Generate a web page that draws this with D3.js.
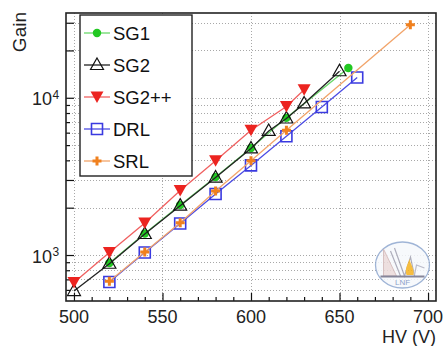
<!DOCTYPE html>
<html>
<head>
<meta charset="utf-8">
<script src="https://cdn.jsdelivr.net/npm/d3@7"></script>
<style>
  html, body { margin: 0; padding: 0; background: #fff; }
  svg { display: block; font-family: "Liberation Sans", Arial, sans-serif; }
</style>
</head>
<body>
<svg id="chart" width="444" height="346"></svg>
<script>
// Gain vs high voltage for five detector configurations
const seriesNames = ["SG1", "SG2", "SG2++", "DRL", "SRL"];

const hvSG1   = [520, 540, 560, 580, 600, 620, 655];
const gainSG1 = [890, 1370, 2080, 3130, 4790, 7450, 15450];

const hvSG2   = [500, 520, 540, 560, 580, 600, 610, 620, 630, 650];
const gainSG2 = [590, 880, 1360, 2060, 3110, 4760, 6150, 7380, 9200, 14750];

const hvSG2pp   = [500, 520, 540, 560, 580, 600, 620, 630];
const gainSG2pp = [668, 1037, 1600, 2575, 3970, 6210, 8800, 11250];

const hvDRL   = [520, 540, 560, 580, 600, 620, 640, 660];
const gainDRL = [673, 1037, 1587, 2446, 3715, 5690, 8730, 13470];

const hvSRL   = [520, 540, 560, 580, 600, 620, 690];
const gainSRL = [680, 1045, 1606, 2557, 3970, 6210, 29100];

const xTicks = [500, 550, 600, 650, 700];
const yDecades = [3, 4];
const xTitle = "HV (V)";
const yTitle = "Gain";

const frame = { left: 66, top: 13, right: 436, bottom: 301 };

const x = d3.scaleLinear().domain([495.5, 704.5]).range([frame.left, frame.right]);
const y = d3.scaleLog().domain([510, 34600]).range([frame.bottom, frame.top]);

const svg = d3.select("#chart");

// grid lines: every log step horizontally, every labelled HV vertically
const logSteps = [];
for (let e = 2; e <= 4; e++) for (let m = 1; m <= 9; m++) {
  const v = m * Math.pow(10, e);
  if (v >= y.domain()[0] && v <= y.domain()[1]) logSteps.push(v);
}
const grid = svg.append("g").attr("stroke", "#a8a8a8").attr("stroke-width", 1)
  .attr("stroke-dasharray", "1,2");
grid.selectAll("line.h").data(logSteps).join("line").attr("class", "h")
  .attr("x1", frame.left).attr("x2", frame.right)
  .attr("y1", d => Math.round(y(d)) + 0.5).attr("y2", d => Math.round(y(d)) + 0.5);
grid.selectAll("line.v").data(xTicks).join("line").attr("class", "v")
  .attr("y1", frame.top).attr("y2", frame.bottom)
  .attr("x1", d => Math.round(x(d)) + 0.5).attr("x2", d => Math.round(x(d)) + 0.5);

// axes drawn inside the frame (ticks pointing inward)
const xMinor = d3.range(500, 701, 10).filter(v => v % 50 !== 0);
svg.append("g").attr("transform", `translate(0,${frame.bottom})`)
  .call(d3.axisBottom(x).tickValues(xTicks).tickSize(-8).tickFormat(""))
  .call(g => g.select(".domain").remove())
  .call(g => g.selectAll("line").attr("stroke", "#111").attr("stroke-width", 1.2));
svg.append("g").attr("transform", `translate(0,${frame.bottom})`)
  .call(d3.axisBottom(x).tickValues(xMinor).tickSize(-4).tickFormat(""))
  .call(g => g.select(".domain").remove())
  .call(g => g.selectAll("line").attr("stroke", "#111").attr("stroke-width", 1.2));

const yLong = logSteps.filter(v => { const m = v / Math.pow(10, Math.floor(Math.log10(v) + 1e-9)); return m < 3.5; });
const yShort = logSteps.filter(v => !yLong.includes(v));
svg.append("g").attr("transform", `translate(${frame.left},0)`)
  .call(d3.axisLeft(y).tickValues(yLong).tickSize(-8).tickFormat(""))
  .call(g => g.select(".domain").remove())
  .call(g => g.selectAll("line").attr("stroke", "#111").attr("stroke-width", 1.2));
svg.append("g").attr("transform", `translate(${frame.left},0)`)
  .call(d3.axisLeft(y).tickValues(yShort).tickSize(-4).tickFormat(""))
  .call(g => g.select(".domain").remove())
  .call(g => g.selectAll("line").attr("stroke", "#111").attr("stroke-width", 1.2));

// x tick labels
svg.append("g").selectAll("text").data(xTicks).join("text")
  .attr("x", d => x(d)).attr("y", 323)
  .attr("text-anchor", "middle").attr("font-size", 18).attr("fill", "#222")
  .text(d => d);

// y tick labels as powers of ten
svg.append("g").selectAll("text").data(yDecades).join("text")
  .attr("x", 52).attr("y", d => y(Math.pow(10, d)) + 7.5)
  .attr("text-anchor", "end").attr("font-size", 18).attr("fill", "#222")
  .text("10");
svg.append("g").selectAll("text").data(yDecades).join("text")
  .attr("x", 52.5).attr("y", d => y(Math.pow(10, d)) + 1)
  .attr("font-size", 12).attr("fill", "#222").text(d => d);

// axis titles
svg.append("text").attr("x", 436).attr("y", 343).attr("text-anchor", "end")
  .attr("font-size", 18).attr("fill", "#222").text(xTitle);
svg.append("text").attr("transform", "translate(26,12) rotate(-90)")
  .attr("text-anchor", "end").attr("font-size", 19).attr("fill", "#222").text(yTitle);

// marker shapes
function markerPath(kind) {
  switch (kind) {
    case "circle": return d3.symbol(d3.symbolCircle, 56)();
    case "triUp": return "M0,-7L6.5,4.5L-6.5,4.5Z";
    case "triDown": return "M0,6L6.5,-5.5L-6.5,-5.5Z";
    case "square": return "M-5.5,-5.5H5.5V5.5H-5.5Z";
    case "plus": return "M-4.5,0H4.5M0,-4.5V4.5";
  }
}

const series = [
  { name: seriesNames[0], hv: hvSG1, gain: gainSG1, color: "#22c822", line: "#6ad86a", kind: "circle" },
  { name: seriesNames[1], hv: hvSG2, gain: gainSG2, color: "#111111", line: "#222222", kind: "triUp" },
  { name: seriesNames[2], hv: hvSG2pp, gain: gainSG2pp, color: "#ec2420", line: "#f06060", kind: "triDown" },
  { name: seriesNames[3], hv: hvDRL, gain: gainDRL, color: "#3a3ae0", line: "#4c4ce4", kind: "square" },
  { name: seriesNames[4], hv: hvSRL, gain: gainSRL, color: "#f0801e", line: "#f2a46a", kind: "plus" }
];

function styleMarker(sel, s) {
  if (s.kind === "circle" || s.kind === "triDown") {
    sel.attr("fill", s.color).attr("stroke", "none");
  } else if (s.kind === "plus") {
    sel.attr("fill", "none").attr("stroke", s.color).attr("stroke-width", 3);
  } else {
    sel.attr("fill", "none").attr("stroke", s.color).attr("stroke-width", s.kind === "square" ? 1.6 : 1.2);
  }
}

const line = d3.line().x(d => x(d[0])).y(d => y(d[1]));
const plot = svg.append("g");
series.forEach(s => {
  const pts = s.hv.map((h, i) => [h, s.gain[i]]);
  const g = plot.append("g");
  g.append("path").datum(pts).attr("d", line).attr("fill", "none")
    .attr("stroke", s.line).attr("stroke-width", 1.3);
  g.selectAll("path.m").data(pts).join("path").attr("class", "m")
    .attr("transform", d => `translate(${x(d[0])},${y(d[1])})`)
    .attr("d", markerPath(s.kind))
    .call(sel => styleMarker(sel, s));
});

// frame
svg.append("rect").attr("x", frame.left).attr("y", frame.top)
  .attr("width", frame.right - frame.left).attr("height", frame.bottom - frame.top)
  .attr("fill", "none").attr("stroke", "#222").attr("stroke-width", 1.6);

// legend
const leg = svg.append("g");
leg.append("rect").attr("x", 80).attr("y", 15).attr("width", 112).attr("height", 161)
  .attr("fill", "#fff").attr("stroke", "#222").attr("stroke-width", 1.4);
series.forEach((s, i) => {
  const cy = 33 + i * 32;
  leg.append("line").attr("x1", 84).attr("x2", 110).attr("y1", cy).attr("y2", cy)
    .attr("stroke", s.line).attr("stroke-width", 1.3);
  leg.append("path").attr("transform", `translate(97,${cy})`).attr("d", markerPath(s.kind))
    .call(sel => styleMarker(sel, s));
  leg.append("text").attr("x", 113).attr("y", cy + 6.5).attr("font-size", 18.5)
    .attr("fill", "#111").text(s.name);
});

// laboratory emblem
const logo = svg.append("g").attr("transform", "translate(402.5,265)").attr("opacity", 0.85);
logo.append("ellipse").attr("rx", 27).attr("ry", 23).attr("fill", "#f6f8fc")
  .attr("stroke", "#8fa8d0").attr("stroke-width", 1.3);
logo.append("path").attr("d", "M-19,-16L-19,11L-6,11Z").attr("fill", "#eadada").attr("stroke", "#c9a9a9").attr("stroke-width", 0.8);
logo.append("path").attr("d", "M-12,-14L-2,11M-8,-17L2,11L8,-8L12,11").attr("fill", "none")
  .attr("stroke", "#a0a0b0").attr("stroke-width", 1.2);
logo.append("path").attr("d", "M4,10C2,4 5,0 7,-6C8,0 12,3 11,10Z").attr("fill", "#f5b21f");
logo.append("path").attr("d", "M12,10L14,0L22,3").attr("fill", "none").attr("stroke", "#b0b0c0").attr("stroke-width", 1.2);
logo.append("line").attr("x1", -22).attr("x2", 22).attr("y1", 11.5).attr("y2", 11.5)
  .attr("stroke", "#707088").attr("stroke-width", 2.2);
logo.append("text").attr("x", 0).attr("y", 20).attr("text-anchor", "middle")
  .attr("font-size", 8).attr("fill", "#7a90c0").text("LNF");
</script>
</body>
</html>
